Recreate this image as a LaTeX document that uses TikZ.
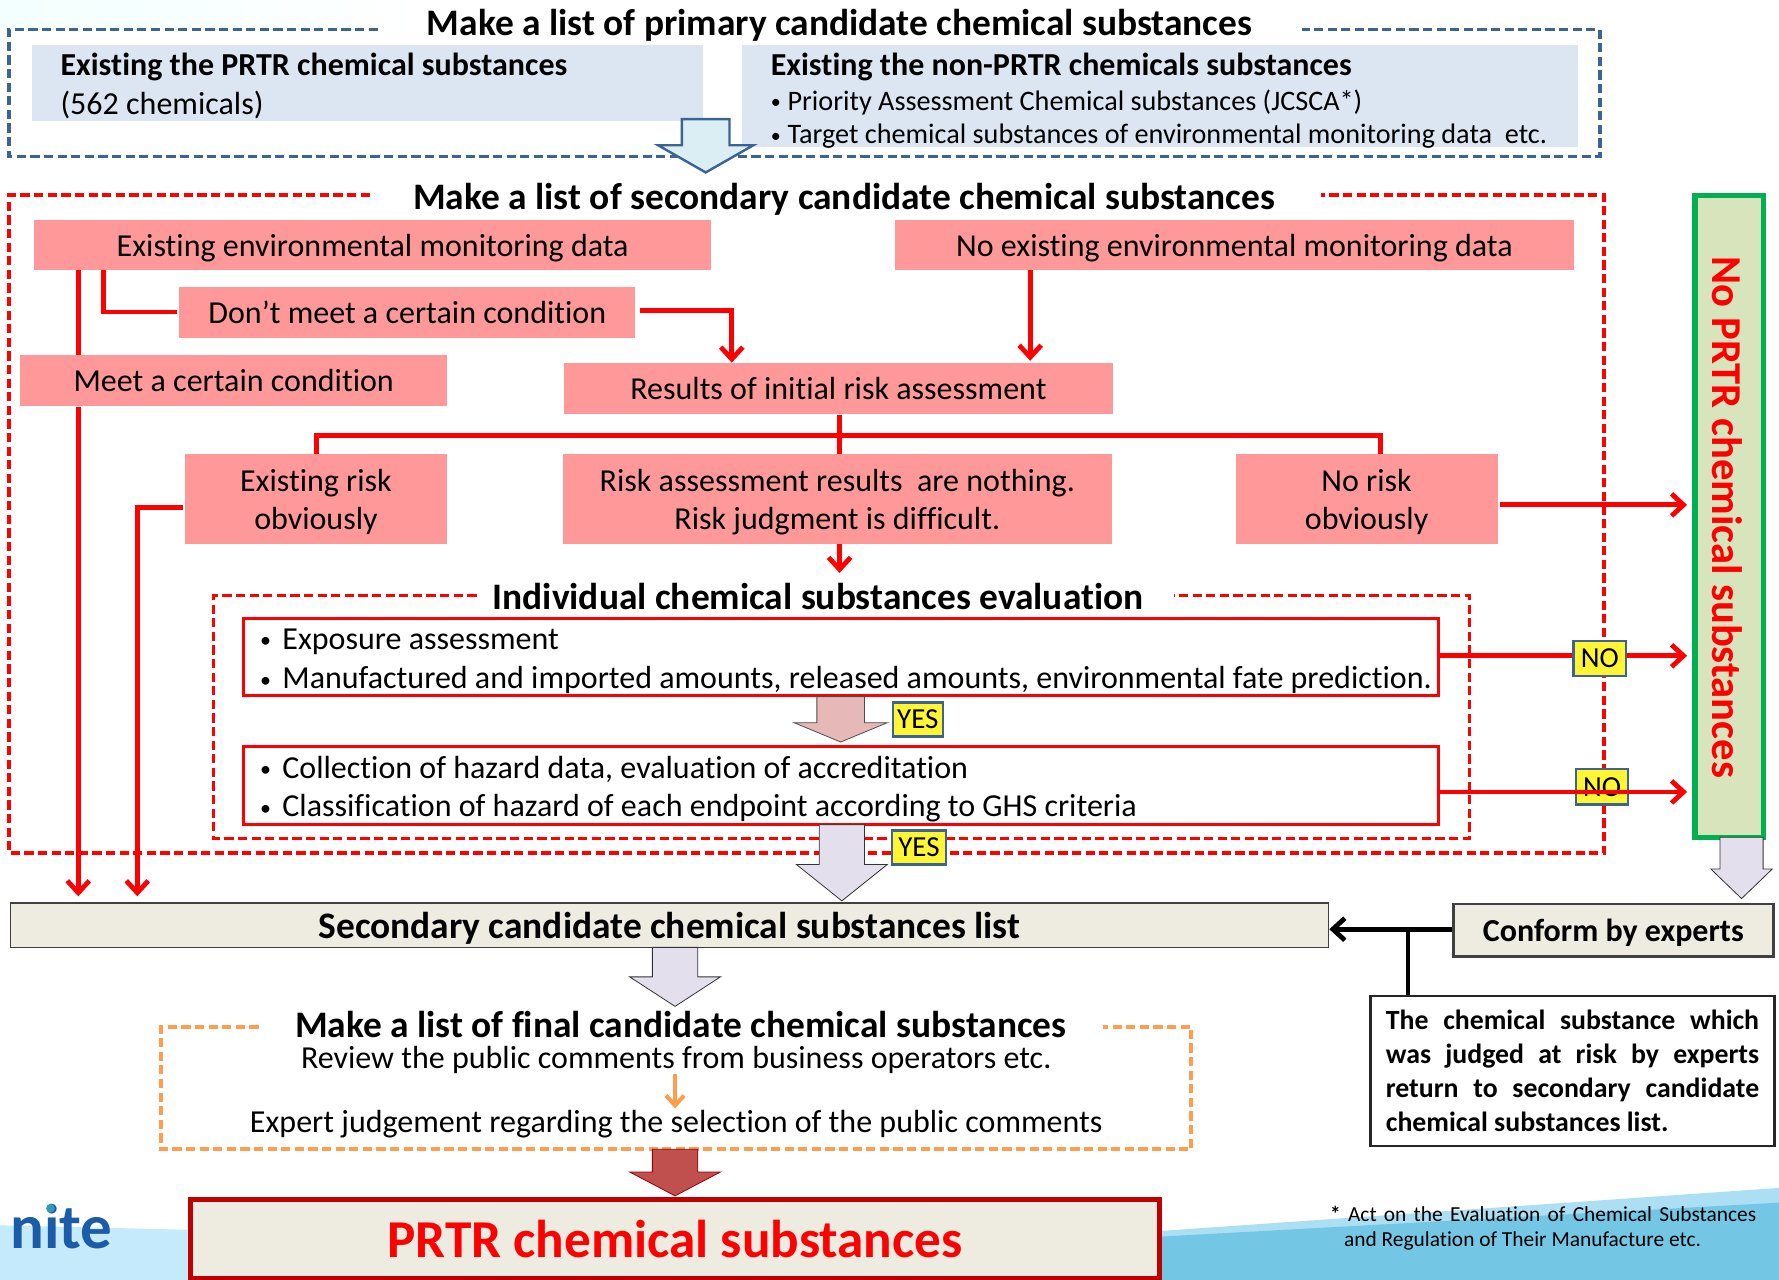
\documentclass[tikz,border=0pt]{standalone}
\usepackage{fontspec}
\setmainfont[Ligatures=NoCommon]{Carlito}
\usetikzlibrary{arrows.meta}

\definecolor{framebluec}{HTML}{3B6494}
\definecolor{paleblue}{HTML}{DCE6F2}
\definecolor{pinkc}{HTML}{FF9999}
\definecolor{creamc}{HTML}{EEECE1}
\definecolor{orangec}{HTML}{FF9D4D}
\definecolor{greenc}{HTML}{00B050}
\definecolor{leafc}{HTML}{D7E4BC}
\definecolor{skyc}{HTML}{74C7E4}
\definecolor{lightskyc}{HTML}{C5EAFB}
\definecolor{lavenderc}{HTML}{E4DFEC}
\definecolor{rosec}{HTML}{E6B9B8}
\definecolor{icec}{HTML}{DAEEF3}
\definecolor{brickc}{HTML}{C0504D}
\definecolor{logoc}{HTML}{1A5CA8}
\definecolor{logodotc}{HTML}{2E9CB8}

\def\unitpx{0.567pt}
\newcommand{\smalldot}{\raisebox{0.6pt}{\fontsize{11}{11}\selectfont •}\hspace{5.6pt}}
\newcommand{\tinydot}{\raisebox{0.6pt}{\fontsize{10}{10}\selectfont •}\hspace{3.4pt}}
\tikzset{
	sized/.style 2 args={minimum width=#1*\unitpx, minimum height=#2*\unitpx, inner sep=0pt},
	titletext/.style={font=\fontsize{18.7}{22}\selectfont\bfseries, inner sep=0pt, text depth=0pt},
	headtext/.style={font=\fontsize{16}{19}\selectfont\bfseries, inner sep=0pt, text depth=0pt},
	bodytext/.style={font=\fontsize{16}{19}\selectfont, text depth=0pt},
	listtext/.style={font=\fontsize{14.1}{17}\selectfont, inner sep=0pt, text depth=0pt},
	pinkbox/.style={fill=pinkc, bodytext, align=center},
	bluebox/.style={fill=paleblue, align=left},
	whitebox/.style={draw=red, line width=1.5pt, fill=white, align=left},
	tagbox/.style={draw=framebluec, line width=1.2pt, fill=yellow!80!white, font=\fontsize{14.5}{16}\selectfont},
	creambox/.style={draw=black!75, fill=creamc, text depth=0pt},
	dashframe/.style={line width=1.9pt, dash pattern=on 4.6pt off 2.2pt},
	redline/.style={draw=red, line width=2.4pt},
	redarrow/.style={redline, -{Straight Barb[length=6pt,width=11pt]}},
	blackline/.style={draw=black, line width=2.4pt},
}
\newcommand{\blockarrow}[7]{% style, centre, top, neck, tip, half shaft, half head
	\draw[#1] (#2-#6,#3) -- (#2+#6,#3) -- (#2+#6,#4) -- (#2+#7,#4) -- (#2,#5) -- (#2-#7,#4) -- (#2-#6,#4) -- cycle;
}

\begin{document}
\begin{tikzpicture}[x=0.567pt,y=-0.567pt]
	\useasboundingbox (0,0) rectangle (1568,1128);
	\clip (0,0) rectangle (1568,1128);

	% background
	\shade[left color=green!5!cyan!5, right color=white] (0,0) rectangle (375,26);
	\fill[lightskyc] (0,1080) -- (170,1084) -- (170,1128) -- (0,1128) -- cycle;
	\fill[lightskyc!70!skyc] (1022,1085) -- (1568,1047) -- (1568,1128) -- (1022,1128) -- cycle;
	\fill[skyc] (1022,1090) -- (1568,1060) -- (1568,1128) -- (1022,1128) -- cycle;
	\node[text=logoc, inner sep=0pt, font=\fontsize{31.5}{35}\selectfont\bfseries] (nite) at (54,1081) {nite};
	\fill[logodotc] (44.5,1065) circle (3.8);

	% primary list
	\node[bluebox, sized={592}{67}] (prtr) at (324,73.5) {};
	\node[bluebox, sized={737}{90}] (nonprtr) at (1022.5,85) {};
	\node[anchor=west, headtext] (prtrhead) at (53,57) {Existing the PRTR chemical substances};
	\node[anchor=west, headtext, font=\fontsize{16}{19}\selectfont\mdseries] (prtrcount) at (53,91) {(562 chemicals)};
	\node[anchor=west, headtext] (nonhead) at (679,57) {Existing the non-PRTR chemicals substances};
	\node[anchor=west, listtext] (nonone) at (679,88) {\tinydot Priority Assessment Chemical substances (JCSCA*)};
	\node[anchor=west, listtext] (nontwo) at (679,118) {\tinydot Target chemical substances of environmental monitoring data\ \ etc.};
	\draw[framebluec, dashframe] (333,26) -- (8,26) -- (8,138) -- (1410,138) -- (1410,26) -- (1148,26);
	\node[titletext] (primary) at (740,20) {Make a list of primary candidate chemical substances};
	\blockarrow{draw=framebluec, fill=icec, line width=1.2pt}{622}{105}{128}{152}{21}{42}

	% secondary list
	\node[pinkbox, sized={597}{44}] (existdata) at (328.5,216) {Existing environmental monitoring data};
	\node[pinkbox, sized={598}{44}] (nodata) at (1088,216) {No existing environmental monitoring data};
	\node[pinkbox, sized={402}{45}] (dontmeet) at (359,275.5) {Don’t meet a certain condition};
	\node[pinkbox, sized={376}{45}] (meet) at (206,335.5) {Meet a certain condition};
	\node[pinkbox, sized={484}{45}] (initial) at (739,342.5) {Results of initial risk assessment};
	\node[pinkbox, sized={231}{79}] (riskyes) at (278.5,440) {Existing risk\\obviously};
	\node[pinkbox, sized={484}{79}] (risknone) at (738,440) {Risk assessment results\ \ are nothing.\\Risk judgment is difficult.};
	\node[pinkbox, sized={231}{79}] (riskno) at (1204.5,440) {No risk\\obviously};
	\draw[red, dashframe] (326,172) -- (8,172) -- (8,752) -- (1414,752) -- (1414,172) -- (1164,172);
	\node[titletext] (secondary) at (744,173) {Make a list of secondary candidate chemical substances};

	% green column
	\node[draw=greenc, line width=2.6pt, fill=leafc, sized={60}{566}] (norprtr) at (1524,455) {};
	\node[rotate=-90, text=red, inner sep=0pt, font=\fontsize{21.3}{24}\selectfont\bfseries] (norprtrtext) at (1522.5,456) {No PRTR chemical substances};

	\coordinate (leftdown) at (69,790);
	\coordinate (riskdown) at (121,790);
	\coordinate (dontturn) at (91,275);
	\coordinate (dontin) at (645,274);
	\coordinate (dataout) at (908,318);
	\coordinate (riskbar) at (740,384);
	\coordinate (riskleft) at (279,384);
	\coordinate (riskright) at (1217,384);
	\coordinate (evalin) at (740,505);
	\coordinate (leafin) at (1487,445);
	\coordinate (yesturn) at (121,447);

	\draw[redline] (existdata.south -| leftdown) -- (meet.north -| leftdown);
	\draw[redarrow] (meet.south -| leftdown) -- (leftdown);
	\draw[redline, shorten >=1pt] (existdata.south -| dontturn) -- (dontturn) -- (dontmeet.west |- dontturn);
	\draw[redarrow, shorten <=2pt] (dontmeet.east |- dontin) -- (dontin) -- (initial.north -| dontin);
	\draw[redarrow] (nodata.south -| dataout) -- (dataout);
	\draw[redline] (initial.south -| riskbar) -- (risknone.north -| riskbar);
	\draw[redline] (riskyes.north -| riskleft) -- (riskleft) -- (riskright) -- (riskno.north -| riskright);
	\draw[redarrow] (risknone.south -| evalin) -- (evalin);
	\draw[redarrow, shorten <=1pt] (riskyes.west |- yesturn) -- (yesturn) -- (riskdown);
	\draw[redarrow, shorten <=1pt] (riskno.east |- leafin) -- (leafin);

	% individual evaluation
	\draw[red, line width=1.5pt, dash pattern=on 4.6pt off 2.2pt] (420,525) -- (188,525) -- (188,739) -- (1295,739) -- (1295,525) -- (1035,525);
	\node[titletext] (individual) at (721,526) {Individual chemical substances evaluation};
	\node[whitebox, sized={1053}{68}] (exposure) at (741.5,579) {};
	\node[whitebox, sized={1053}{69}] (hazard) at (741.5,692.5) {};
	\node[anchor=west, bodytext, inner sep=0pt] (exposureone) at (229,563) {\smalldot Exposure assessment};
	\node[anchor=west, bodytext, inner sep=0pt] (exposuretwo) at (229,597) {\smalldot Manufactured and imported amounts, released amounts, environmental fate prediction.};
	\node[anchor=west, bodytext, inner sep=0pt] (hazardone) at (229,676) {\smalldot Collection of hazard data, evaluation of accreditation};
	\node[anchor=west, bodytext, inner sep=0pt] (hazardtwo) at (229,710) {\smalldot Classification of hazard of each endpoint according to GHS criteria};

	\blockarrow{draw=black!70, fill=rosec}{741}{614}{637}{654}{21}{41}
	\node[tagbox, sized={44}{30}] (yesone) at (809,634) {YES};

	\coordinate (noone) at (1487,578);
	\coordinate (notwo) at (1487,698);
	\draw[redarrow] (exposure.east |- noone) -- (noone);
	\node[tagbox, sized={46}{31}] (notagone) at (1410,580.5) {NO};
	\node[tagbox, sized={46}{31}] (notagtwo) at (1412,693.5) {NO};
	\draw[redarrow] (hazard.east |- notwo) -- (notwo);

	% list of secondary
	\blockarrow{draw=black!80, fill=lavenderc}{742}{727}{762}{794}{20}{40}
	\node[tagbox, sized={48}{30}] (yestwo) at (810,747) {YES};
	\blockarrow{draw=black!80, fill=lavenderc}{1535}{738}{766}{792}{19}{27}
	\node[creambox, line width=0.7pt, sized={1162}{39}, font=\fontsize{18.7}{22}\selectfont\bfseries] (seclist) at (590,815.5) {Secondary candidate chemical substances list};
	\node[creambox, line width=1.2pt, sized={282}{46}, font=\fontsize{16}{19}\selectfont\bfseries] (conform) at (1422,820) {Conform by experts};
	\node[draw=black!85, line width=1.2pt, fill=white, sized={356}{132}, text width=329*\unitpx, align=justify, font=\fontsize{13.9}{17}\selectfont\bfseries] (judged) at (1386,944) {The chemical substance which was judged at risk by experts return to secondary candidate chemical substances list.};
	\coordinate (judgedbranch) at (1241,819);
	\draw[blackline, -{Straight Barb[length=6pt,width=11pt]}] (conform.west |- judgedbranch) -- (seclist.east |- judgedbranch);
	\draw[blackline] (judgedbranch) -- (judged.north -| judgedbranch);

	% final list
	\blockarrow{draw=black!80, fill=lavenderc}{595}{835}{861}{887}{20}{40}
	\draw[orangec, dashframe] (228,905) -- (142,905) -- (142,1013) -- (1050,1013) -- (1050,905) -- (972,905);
	\node[titletext] (finallist) at (600,903) {Make a list of final candidate chemical substances};
	\node[bodytext, inner sep=0pt] (review) at (596,932) {Review the public comments from business operators etc.};
	\node[bodytext, inner sep=0pt] (expert) at (596,988) {Expert judgement regarding the selection of the public comments};
	\coordinate (reviewout) at (595,947);
	\coordinate (expertin) at (595,977);
	\draw[orangec, line width=2pt, -{Straight Barb[length=5pt,width=9pt]}] (reviewout) -- (expertin);
	\blockarrow{draw=red!60!black, fill=brickc}{595}{1013}{1033}{1054}{20}{40}
	\node[draw=red!75!black, line width=2.4pt, fill=creamc, text=red, sized={854}{70}, text depth=0pt, font=\fontsize{26.6}{30}\selectfont\bfseries] (finalbox) at (595,1092) {PRTR chemical substances};

	% footnote
	\node[anchor=west, align=left, inner sep=0pt, font=\fontsize{10.7}{12.4}\selectfont] (footnote) at (1172,1082.5) {\makebox[213pt][s]{\textbf{*} Act on the Evaluation of Chemical Substances}\\\hspace*{7pt}and Regulation of Their Manufacture etc.};
\end{tikzpicture}
\end{document}
